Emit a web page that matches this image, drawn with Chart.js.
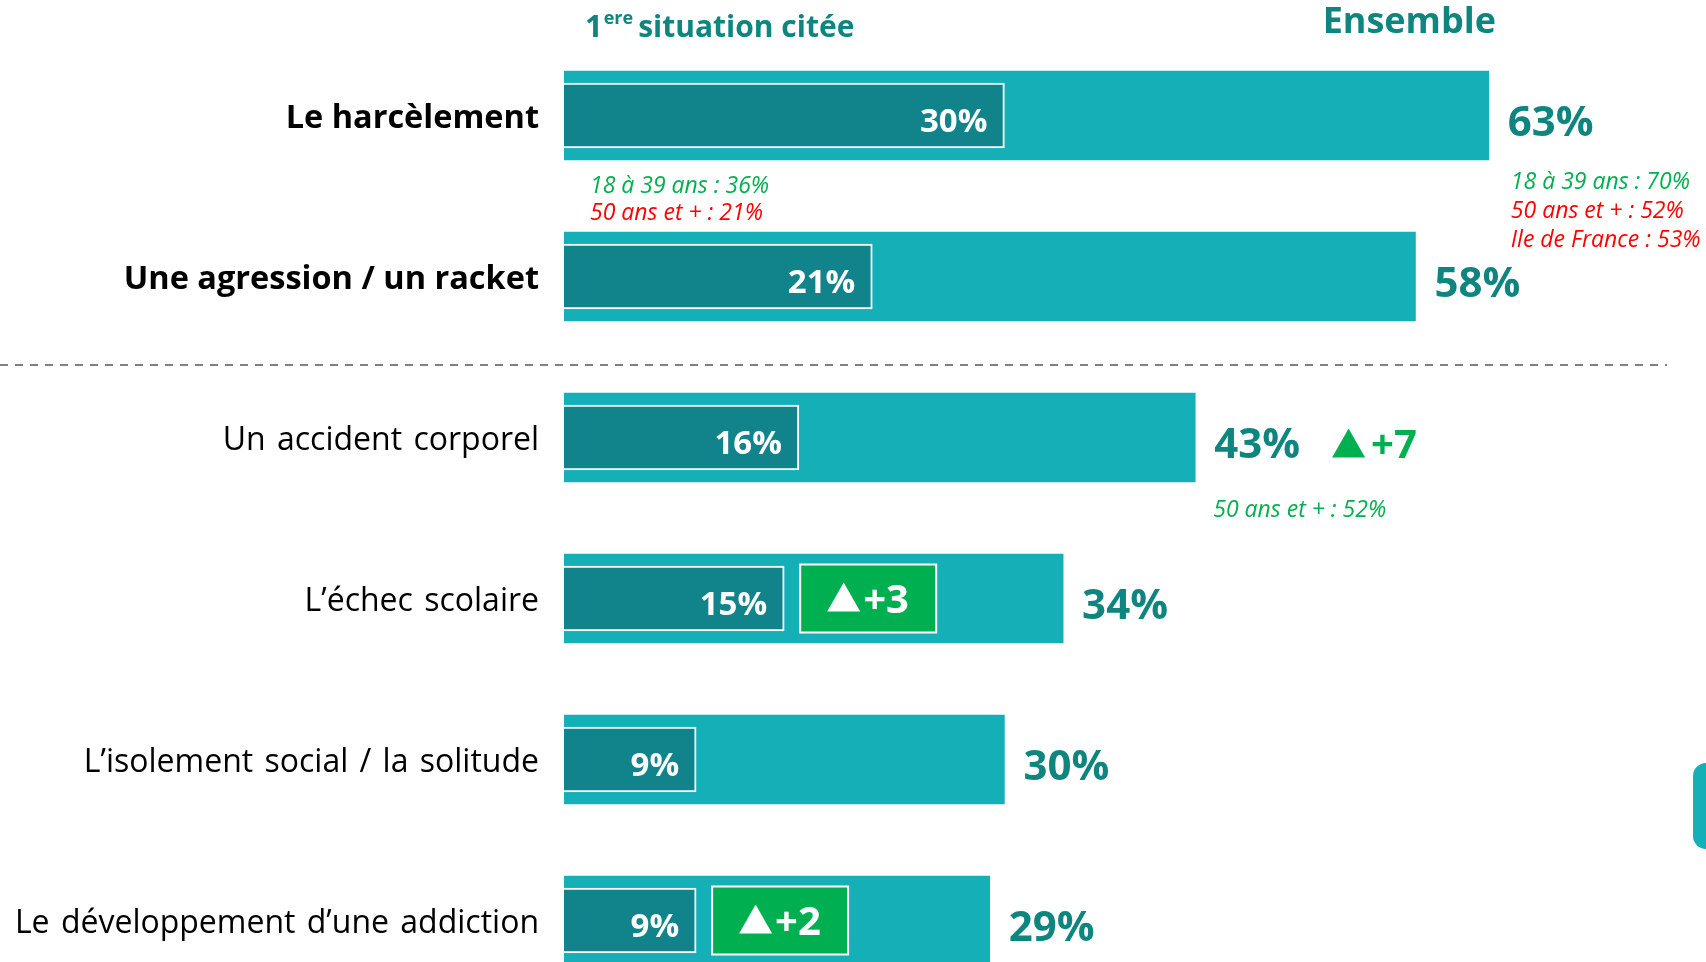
<!DOCTYPE html>
<html lang="fr">
<head>
<meta charset="utf-8">
<title>Situations redoutées</title>
<script src="https://cdn.jsdelivr.net/npm/chart.js@4.4.1/dist/chart.umd.min.js"></script>
<style>
  html, body { margin: 0; padding: 0; background: #fff; overflow: hidden; }
  #wrap { width: 1706px; height: 1001px; }
</style>
</head>
<body>
<div id="wrap"><canvas id="situationsChart" width="1706" height="1001"></canvas></div>
<script>
// 1. Data
const categories = [
    'Le harcèlement',
    'Une agression / un racket',
    'Un accident corporel',
    'L’échec scolaire',
    'L’isolement social / la solitude',
    'Le développement d’une addiction'
];
const highlighted = [true, true, false, false, false, false]; // the two bold rows
const ensemble = [63, 58, 43, 34, 30, 29];   // total citations (%)
const firstCited = [30, 21, 16, 15, 9, 9];   // 1ere situation citee (%)
const evolution = [null, null, 7, 3, null, 2];
const evolutionInBar = [false, false, false, true, false, true];

// sub-group notes: under the 1st-cited bar / after the total label
const notesFirst = [
    [['18 à 39 ans : 36%', 'up'], ['50 ans et + : 21%', 'down']],
    [], [], [], [], []
];
const notesTotal = [
    [['18 à 39 ans : 70%', 'up'], ['50 ans et + : 52%', 'down'], ['Ile de France : 53%', 'down']],
    [],
    [['50 ans et + : 52%', 'up']],
    [], [], []
];

// 2. Styles
const FONT = '"Open Sans", "Noto Sans", sans-serif';
const TEAL_BAR = '#14AFB7';
const TEAL_DARK = '#11838A';
const TEAL_TEXT = '#0F857F';
const GREEN = '#00B050';
const RED = '#FF0000';

function triangle(ctx, x, yBase, w, h, color) {
    ctx.beginPath();
    ctx.moveTo(x, yBase);
    ctx.lineTo(x + w / 2, yBase - h);
    ctx.lineTo(x + w, yBase);
    ctx.closePath();
    ctx.fillStyle = color;
    ctx.fill();
}

// everything that is not a bar: headers, labels, notes, separator
const overlay = {
    id: 'overlay',
    afterDatasetsDraw(chart) {
        const { ctx, chartArea, scales: { x, y } } = chart;
        const outer = chart.getDatasetMeta(0).data;
        const inner = chart.getDatasetMeta(1).data;
        ctx.save();
        ctx.textBaseline = 'alphabetic';

        // headers
        ctx.fillStyle = TEAL_TEXT;
        ctx.textAlign = 'left';
        let hx = chartArea.left + 21;
        ctx.font = `bold 31px ${FONT}`;
        ctx.fillText('1', hx, 37);
        hx += ctx.measureText('1').width + 1;
        ctx.font = `bold 18px ${FONT}`;
        ctx.fillText('ere', hx, 24);
        hx += ctx.measureText('ere').width + 5;
        ctx.font = `bold 30px ${FONT}`;
        ctx.fillText('situation citée', hx, 37);
        ctx.textAlign = 'right';
        ctx.font = `bold 36px ${FONT}`;
        ctx.fillText('Ensemble', chartArea.left + 932, 33);

        // dashed separator between the two highlighted rows and the rest
        const sepY = (y.getPixelForValue(1) + y.getPixelForValue(2)) / 2 + 8;
        ctx.strokeStyle = '#808080';
        ctx.lineWidth = 2;
        ctx.setLineDash([8, 7]);
        ctx.beginPath();
        ctx.moveTo(0, sepY);
        ctx.lineTo(1667, sepY);
        ctx.stroke();
        ctx.setLineDash([]);

        categories.forEach((cat, i) => {
            const ob = outer[i], ib = inner[i];
            const cy = ob.y;

            // category label, right aligned against the axis
            ctx.textAlign = 'right';
            ctx.fillStyle = '#000';
            if (highlighted[i]) {
                ctx.font = `bold 32.5px ${FONT}`;
                ctx.wordSpacing = '0px';
            } else {
                ctx.font = `32px ${FONT}`;
                ctx.wordSpacing = '3px';
            }
            ctx.fillText(cat, chartArea.left - 25, cy + 12);
            ctx.wordSpacing = '0px';

            // 1st cited value inside the dark bar
            ctx.fillStyle = '#fff';
            ctx.font = `bold 33px ${FONT}`;
            ctx.fillText(firstCited[i] + '%', ib.x - 17, cy + 16);

            // total value after the bar
            ctx.textAlign = 'left';
            ctx.fillStyle = TEAL_TEXT;
            ctx.font = `bold 42px ${FONT}`;
            const label = ensemble[i] + '%';
            const lx = ob.x + 19;
            ctx.fillText(label, lx, cy + 20);
            const lw = ctx.measureText(label).width;

            // evolution vs previous wave
            if (evolution[i] !== null) {
                const txt = '+' + evolution[i];
                if (evolutionInBar[i]) {
                    const bx = ib.x + 16, bh = ib.height + 3, by = cy - bh / 2;
                    ctx.fillStyle = GREEN;
                    ctx.fillRect(bx, by, 136, bh);
                    ctx.strokeStyle = '#fff';
                    ctx.lineWidth = 2;
                    ctx.strokeRect(bx, by, 136, bh);
                    triangle(ctx, bx + 27, cy + 13, 33, 29, '#fff');
                    ctx.fillStyle = '#fff';
                    ctx.font = `bold 40px ${FONT}`;
                    ctx.fillText(txt, bx + 63, cy + 14);
                } else {
                    const tx = lx + lw + 32;
                    triangle(ctx, tx, cy + 20, 33, 29, GREEN);
                    ctx.fillStyle = GREEN;
                    ctx.font = `bold 40px ${FONT}`;
                    ctx.fillText(txt, tx + 39, cy + 20);
                }
            }

            // sub-group notes
            ctx.font = `italic 23px ${FONT}`;
            notesFirst[i].forEach(([t, dir], k) => {
                ctx.fillStyle = dir === 'up' ? GREEN : RED;
                ctx.fillText(t, chartArea.left + 26, cy + 77 + k * 27);
            });
            notesTotal[i].forEach(([t, dir], k) => {
                ctx.fillStyle = dir === 'up' ? GREEN : RED;
                const off = i === 0 ? 73 : 79;
                ctx.fillText(t, ob.x + (i === 0 ? 22 : 18), cy + off + k * 29);
            });
        });

        // slide decoration at the right edge
        ctx.fillStyle = TEAL_BAR;
        ctx.beginPath();
        ctx.roundRect(1693, 763, 30, 86, 13);
        ctx.fill();

        ctx.restore();
    }
};

const ctxBar = document.getElementById('situationsChart').getContext('2d');
new Chart(ctxBar, {
    type: 'bar',
    data: {
        labels: categories,
        datasets: [{
            label: 'Ensemble',
            data: ensemble,
            backgroundColor: TEAL_BAR,
            barThickness: 89,
            grouped: false,
            order: 2
        }, {
            label: '1ere situation citée',
            data: firstCited,
            backgroundColor: TEAL_DARK,
            borderColor: '#ffffff',
            borderWidth: 2,
            borderSkipped: 'start',
            barThickness: 65,
            grouped: false,
            order: 1
        }]
    },
    options: {
        indexAxis: 'y',
        responsive: false,
        animation: false,
        layout: { padding: { top: 35, right: 41, bottom: 0, left: 0 } },
        scales: {
            x: { display: false, min: 0, max: 75 },
            y: {
                grid: { display: false },
                border: { display: false },
                ticks: { display: false },
                afterFit: scale => { scale.width = 564; }
            }
        },
        plugins: {
            legend: { display: false },
            tooltip: { enabled: false }
        }
    },
    plugins: [overlay]
});
</script>
</body>
</html>
